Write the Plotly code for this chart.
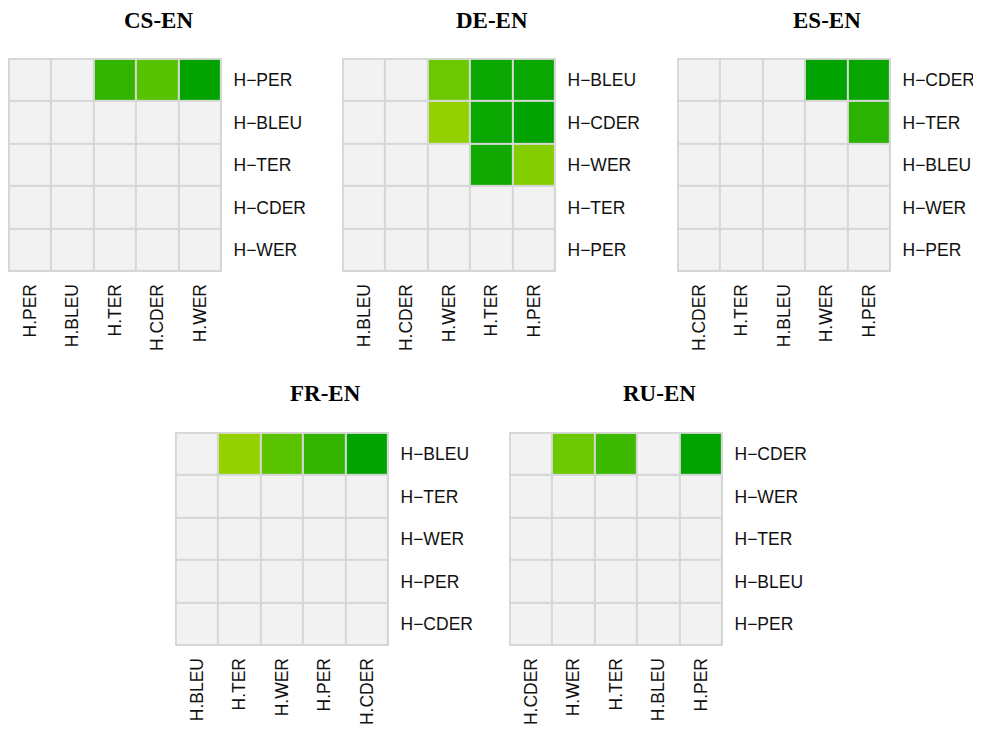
import plotly.graph_objects as go

# ---------------- data ----------------
titles = ["CS-EN", "DE-EN", "ES-EN", "FR-EN", "RU-EN"]

cs_x = ["H.PER", "H.BLEU", "H.TER", "H.CDER", "H.WER"]
cs_y = ["H−PER", "H−BLEU", "H−TER", "H−CDER", "H−WER"]
cs_p = [[None, None, 0.0175, 0.030, 0.0],
        [None, None, None, None, None],
        [None, None, None, None, None],
        [None, None, None, None, None],
        [None, None, None, None, None]]

de_x = ["H.BLEU", "H.CDER", "H.WER", "H.TER", "H.PER"]
de_y = ["H−BLEU", "H−CDER", "H−WER", "H−TER", "H−PER"]
de_p = [[None, None, 0.0375, 0.0035, 0.0035],
        [None, None, 0.050, 0.0035, 0.0],
        [None, None, None, 0.006, 0.045],
        [None, None, None, None, None],
        [None, None, None, None, None]]

es_x = ["H.CDER", "H.TER", "H.BLEU", "H.WER", "H.PER"]
es_y = ["H−CDER", "H−TER", "H−BLEU", "H−WER", "H−PER"]
es_p = [[None, None, None, 0.0, 0.002],
        [None, None, None, None, 0.015],
        [None, None, None, None, None],
        [None, None, None, None, None],
        [None, None, None, None, None]]

fr_x = ["H.BLEU", "H.TER", "H.WER", "H.PER", "H.CDER"]
fr_y = ["H−BLEU", "H−TER", "H−WER", "H−PER", "H−CDER"]
fr_p = [[None, 0.050, 0.031, 0.0175, 0.0],
        [None, None, None, None, None],
        [None, None, None, None, None],
        [None, None, None, None, None],
        [None, None, None, None, None]]

ru_x = ["H.CDER", "H.WER", "H.TER", "H.BLEU", "H.PER"]
ru_y = ["H−CDER", "H−WER", "H−TER", "H−BLEU", "H−PER"]
ru_p = [[None, 0.0375, 0.021, None, 0.0],
        [None, None, None, None, None],
        [None, None, None, None, None],
        [None, None, None, None, None],
        [None, None, None, None, None]]

panels = [(cs_x, cs_y, cs_p), (de_x, de_y, de_p), (es_x, es_y, es_p),
          (fr_x, fr_y, fr_p), (ru_x, ru_y, ru_p)]

# ---------------- layout geometry (pixels, page has an 8px body margin) ----------------
W, H = 981, 729
OFF = 8
lefts = [8 - OFF, 342 - OFF, 677 - OFF, 175 - OFF, 509 - OFF]
tops = [58 - OFF, 58 - OFF, 58 - OFF, 432 - OFF, 432 - OFF]
size = 214
title_y = [20 - OFF, 20 - OFF, 20 - OFF, 394 - OFF, 394 - OFF]

green_scale = [[0.0, "#00a300"], [0.35, "#33b500"], [0.6, "#56c200"],
               [0.75, "#6cc800"], [1.0, "#94d100"]]

fig = go.Figure()
layout = dict(width=W, height=H, margin=dict(l=0, r=0, t=0, b=0, autoexpand=False),
              paper_bgcolor="white", plot_bgcolor="#d6d6d6",
              showlegend=False,
              font=dict(family="Liberation Sans, Arial, sans-serif", size=17.5, color="#111111"))
annotations = []

for i, (xs, ys, ps) in enumerate(panels):
    n = i + 1
    xa = "x" if n == 1 else f"x{n}"
    ya = "y" if n == 1 else f"y{n}"
    base = [[0 for _ in xs] for _ in ys]
    fig.add_trace(go.Heatmap(x=xs, y=ys, z=base, xaxis=xa, yaxis=ya,
                             colorscale=[[0, "#f2f2f2"], [1, "#f2f2f2"]],
                             showscale=False, xgap=2, ygap=2, hoverinfo="skip"))
    fig.add_trace(go.Heatmap(x=xs, y=ys, z=ps, xaxis=xa, yaxis=ya,
                             colorscale=green_scale, zmin=0, zmax=0.05,
                             showscale=False, xgap=2, ygap=2))
    x0 = lefts[i] / W
    x1 = (lefts[i] + size) / W
    y1 = 1 - tops[i] / H
    y0 = 1 - (tops[i] + size) / H
    kx = "xaxis" if n == 1 else f"xaxis{n}"
    ky = "yaxis" if n == 1 else f"yaxis{n}"
    layout[kx] = dict(domain=[x0, x1], anchor=ya, type="category",
                      categoryorder="array", categoryarray=xs,
                      range=[-0.52, 4.52], tickangle=-90, side="bottom",
                      ticks="outside", ticklen=4, tickcolor="rgba(0,0,0,0)",
                      showgrid=False, zeroline=False, showline=False,
                      automargin=False, fixedrange=True)
    layout[ky] = dict(domain=[y0, y1], anchor=xa, type="category",
                      categoryorder="array", categoryarray=ys,
                      range=[4.52, -0.52], side="right",
                      ticks="outside", ticklen=7, tickcolor="rgba(0,0,0,0)",
                      showgrid=False, zeroline=False, showline=False,
                      automargin=False, fixedrange=True)
    annotations.append(dict(text=f"<b>{titles[i]}</b>", xref="paper", yref="paper",
                            x=(lefts[i] + 150) / W, y=1 - title_y[i] / H,
                            xanchor="center", yanchor="middle", showarrow=False,
                            font=dict(family="Liberation Serif, Times New Roman, serif",
                                      size=23, color="#000000")))

layout["annotations"] = annotations
fig.update_layout(**layout)
fig.write_html("out.html")
